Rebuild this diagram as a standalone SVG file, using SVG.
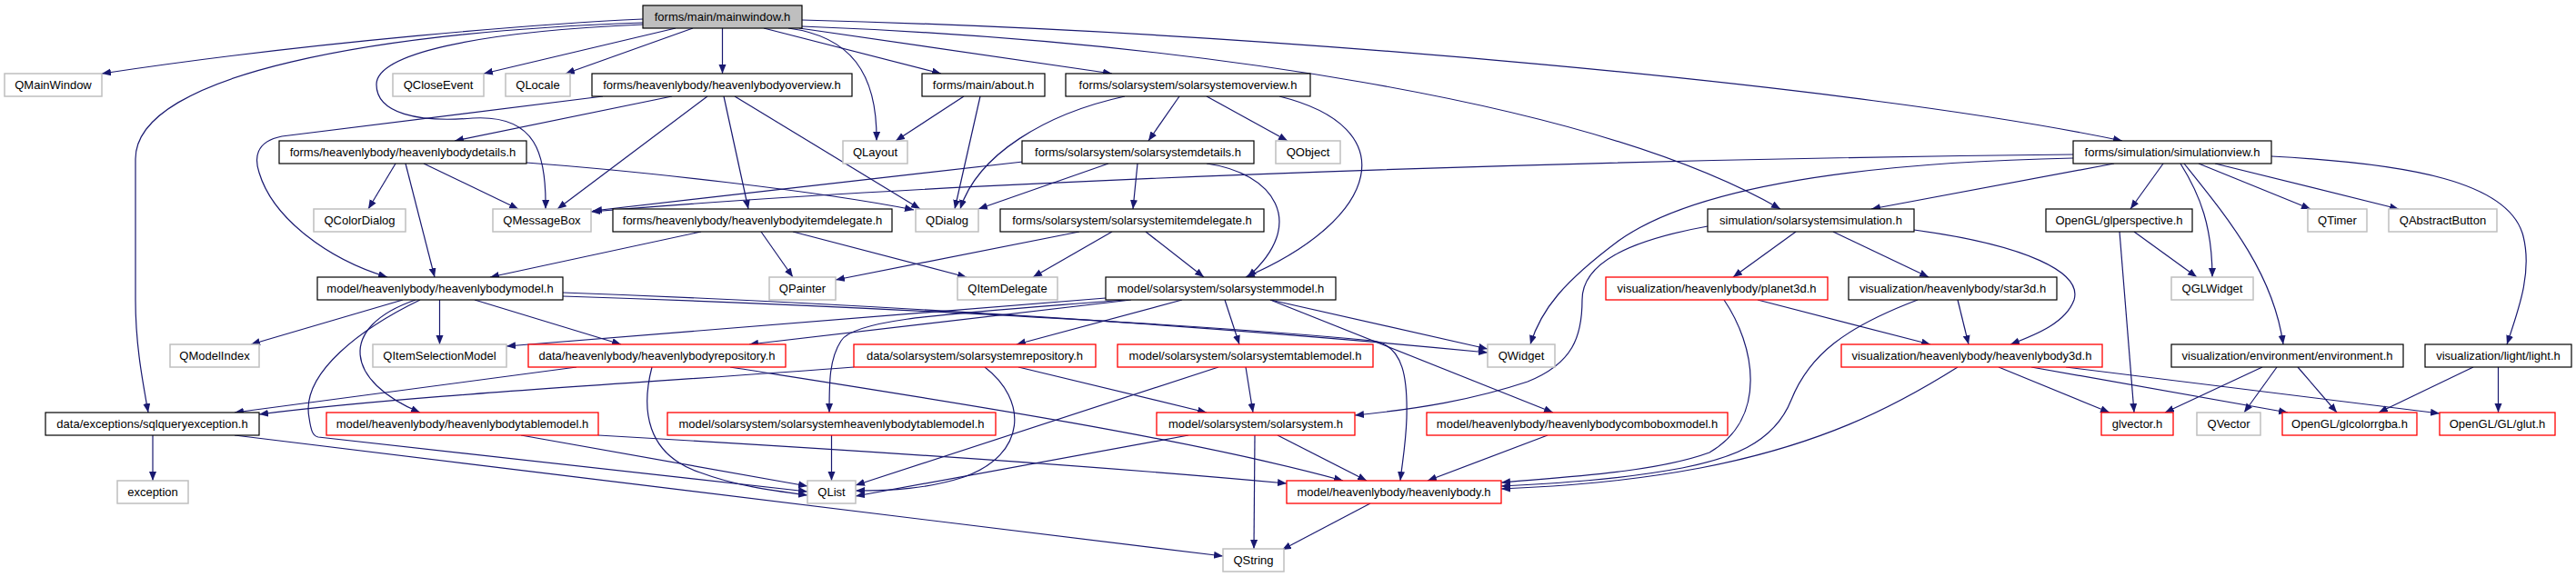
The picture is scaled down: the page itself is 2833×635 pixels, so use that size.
<svg xmlns="http://www.w3.org/2000/svg" width="2833" height="635" viewBox="0 0 2833 635">
<defs>
<marker id="a" markerWidth="11" markerHeight="9" refX="10" refY="4" orient="auto" markerUnits="userSpaceOnUse"><path d="M0,0 L10,4 L0,8 z" fill="#191970"/></marker>
<style>
.e path{fill:none;stroke:#191970;stroke-width:1.2;marker-end:url(#a)}
rect{fill:#ffffff;stroke:#000000;stroke-width:1.2}
.g rect{stroke:#bfbfbf;stroke-width:1.5}
.r rect{stroke:#ff0000;stroke-width:1.3}
.m rect{fill:#bfbfbf}
text{font-family:"Liberation Sans",Arial,Helvetica,sans-serif;font-size:13px;text-anchor:middle;fill:#000000}
</style>
</defs>
<rect x="0" y="0" width="2833" height="635" style="fill:#ffffff;stroke:none"/>
<g id="edges" class="e">
<path d="M707,21 C600,26 350,45 112,81"/>
<path d="M707,25 C420,35 149,80 149,175 L149,330 C149,380 157,420 163,454"/>
<path d="M707,27 C520,35 414,60 414,93 C414,125 460,135 520,130 C590,126 601,170 600,230"/>
<path d="M743,31 L532,81"/>
<path d="M762,31 L622,81"/>
<path d="M794.5,31 L794.5,81"/>
<path d="M867,31 C935,40 965,80 964,155"/>
<path d="M840,31 L1035,81"/>
<path d="M879,31 L1223,81"/>
<path d="M882,29 C1300,45 1750,110 1958,230"/>
<path d="M882,22 C1400,35 2050,95 2334,155"/>
<path d="M663,106 L310,150 C280,156 280,175 285,190 C300,240 360,285 426,305"/>
<path d="M739,106 L500,155"/>
<path d="M778,106 L613,230"/>
<path d="M796,106 L823,230"/>
<path d="M808,106 L1012,230"/>
<path d="M1060,106 L985,155"/>
<path d="M1078,106 L1050,230"/>
<path d="M1237,106 C1150,125 1075,170 1056,230"/>
<path d="M1297,106 L1263,155"/>
<path d="M1327,106 L1416,155"/>
<path d="M1407,106 C1545,140 1520,240 1370,305"/>
<path d="M1125,178 L652,232"/>
<path d="M1219,180 L1076,230"/>
<path d="M1251,180 L1246,230"/>
<path d="M1327,180 C1400,190 1440,245 1372,305"/>
<path d="M435,180 L405,230"/>
<path d="M446,180 L478,305"/>
<path d="M466,180 L570,230"/>
<path d="M579,179 C700,188 900,210 1005,231"/>
<path d="M771,255 L539,305"/>
<path d="M837,255 L872,305"/>
<path d="M872,255 L1063,305"/>
<path d="M1187,255 L919,308"/>
<path d="M1223,255 L1136,305"/>
<path d="M1260,255 L1324,305"/>
<path d="M443,330 L276,379"/>
<path d="M483.5,330 L483.5,379"/>
<path d="M522,330 L683,379"/>
<path d="M457,330 C370,360 380,420 462,454"/>
<path d="M462,330 C400,360 330,410 340,460 C342,474 344,480 350,481 L888,541"/>
<path d="M619,322 C900,332 1300,355 1636,388"/>
<path d="M619,326 C900,335 1300,355 1510,375 C1545,380 1548,420 1547,460 C1546,490 1542,510 1540,529"/>
<path d="M1216,328 L557,381"/>
<path d="M1244,330 L824,379"/>
<path d="M1237,330 C1050,345 940,350 925,375 C912,395 912,420 912,454"/>
<path d="M1300,330 L1118,379"/>
<path d="M1347,330 L1363,379"/>
<path d="M1397,330 L1636,384"/>
<path d="M1397,330 L1708,454"/>
<path d="M634,404 L258,454"/>
<path d="M717,404 C705,450 710,500 770,520 C810,535 850,540 888,545"/>
<path d="M803,404 C1000,435 1300,480 1477,529"/>
<path d="M939,404 C700,422 450,435 285,456"/>
<path d="M1083,404 C1130,440 1130,500 1060,525 C1020,538 980,540 941,540"/>
<path d="M1120,404 L1327,454"/>
<path d="M1340,404 L941,534"/>
<path d="M1370,404 L1378,454"/>
<path d="M914.5,479 L914.5,529"/>
<path d="M1307,479 L941,546"/>
<path d="M1380,479 L1379,604"/>
<path d="M1405,479 L1503,529"/>
<path d="M573,479 L888,535"/>
<path d="M658,479 C900,493 1200,512 1415,532"/>
<path d="M1702,479 L1570,529"/>
<path d="M1507,554 L1410,605"/>
<path d="M168,479 L168,529"/>
<path d="M258,479 L1345,612"/>
<path d="M2280,170 C1800,175 1100,195 650,233"/>
<path d="M2280,174 C2000,180 1850,215 1780,265 C1720,310 1695,340 1683,379"/>
<path d="M2325,180 L2058,230"/>
<path d="M2379,180 L2343,230"/>
<path d="M2398,180 C2420,215 2433,250 2433,305"/>
<path d="M2402,180 C2450,240 2500,300 2511,379"/>
<path d="M2418,180 L2541,230"/>
<path d="M2436,180 L2638,230"/>
<path d="M2498,172 C2650,180 2760,200 2775,260 C2785,300 2770,340 2757,379"/>
<path d="M1878,249 C1790,265 1740,290 1740,330 C1740,370 1730,400 1680,420 C1620,440 1560,450 1490,457"/>
<path d="M1975,255 L1906,305"/>
<path d="M2016,255 L2121,305"/>
<path d="M2105,253 C2230,270 2290,300 2281,330 C2272,355 2240,368 2211,379"/>
<path d="M1933,330 L2123,379"/>
<path d="M1896,330 C1930,380 1945,460 1880,498 C1820,520 1720,525 1651,531"/>
<path d="M2153,330 L2165,379"/>
<path d="M2109,330 C2030,360 1990,390 1970,440 C1950,490 1900,505 1850,515 C1780,528 1710,532 1651,535"/>
<path d="M2153,404 C2080,450 2000,490 1870,515 C1790,530 1720,535 1651,538"/>
<path d="M2198,404 L2320,454"/>
<path d="M2234,404 L2516,454"/>
<path d="M2272,404 L2683,455"/>
<path d="M2347,255 L2416,305"/>
<path d="M2331,255 L2347,454"/>
<path d="M2488,404 L2381,454"/>
<path d="M2504,404 L2468,454"/>
<path d="M2527,404 L2570,454"/>
<path d="M2720,404 L2616,454"/>
<path d="M2747.5,404 L2747.5,454"/>
</g>
<g id="n-mainwindow" class="m"><rect x="707" y="6" width="175" height="25"/><text x="794.5" y="23">forms/main/mainwindow.h</text></g>
<g id="n-qmainwindow" class="g"><rect x="5" y="81" width="107" height="25"/><text x="58.5" y="98">QMainWindow</text></g>
<g id="n-qcloseevent" class="g"><rect x="432" y="81" width="100" height="25"/><text x="482" y="98">QCloseEvent</text></g>
<g id="n-qlocale" class="g"><rect x="556" y="81" width="71" height="25"/><text x="591.5" y="98">QLocale</text></g>
<g id="n-hboverview"><rect x="651" y="81" width="286" height="25"/><text x="794" y="98">forms/heavenlybody/heavenlybodyoverview.h</text></g>
<g id="n-about"><rect x="1014" y="81" width="135" height="25"/><text x="1081.5" y="98">forms/main/about.h</text></g>
<g id="n-ssoverview"><rect x="1172" y="81" width="269" height="25"/><text x="1306.5" y="98">forms/solarsystem/solarsystemoverview.h</text></g>
<g id="n-hbdetails"><rect x="307" y="155" width="272" height="25"/><text x="443" y="172">forms/heavenlybody/heavenlybodydetails.h</text></g>
<g id="n-qlayout" class="g"><rect x="927" y="155" width="71" height="25"/><text x="962.5" y="172">QLayout</text></g>
<g id="n-ssdetails"><rect x="1124" y="155" width="255" height="25"/><text x="1251.5" y="172">forms/solarsystem/solarsystemdetails.h</text></g>
<g id="n-qobject" class="g"><rect x="1403" y="155" width="71" height="25"/><text x="1438.5" y="172">QObject</text></g>
<g id="n-simview"><rect x="2280" y="155" width="218" height="25"/><text x="2389" y="172">forms/simulation/simulationview.h</text></g>
<g id="n-qcolordialog" class="g"><rect x="345" y="230" width="101" height="25"/><text x="395.5" y="247">QColorDialog</text></g>
<g id="n-qmessagebox" class="g"><rect x="542" y="230" width="108" height="25"/><text x="596" y="247">QMessageBox</text></g>
<g id="n-hbitemdelegate"><rect x="674" y="230" width="307" height="25"/><text x="827.5" y="247">forms/heavenlybody/heavenlybodyitemdelegate.h</text></g>
<g id="n-qdialog" class="g"><rect x="1007" y="230" width="69" height="25"/><text x="1041.5" y="247">QDialog</text></g>
<g id="n-ssitemdelegate"><rect x="1100" y="230" width="290" height="25"/><text x="1245" y="247">forms/solarsystem/solarsystemitemdelegate.h</text></g>
<g id="n-sssimulation"><rect x="1878" y="230" width="227" height="25"/><text x="1991.5" y="247">simulation/solarsystemsimulation.h</text></g>
<g id="n-glperspective"><rect x="2250" y="230" width="161" height="25"/><text x="2330.5" y="247">OpenGL/glperspective.h</text></g>
<g id="n-qtimer" class="g"><rect x="2538" y="230" width="65" height="25"/><text x="2570.5" y="247">QTimer</text></g>
<g id="n-qabstractbutton" class="g"><rect x="2627" y="230" width="119" height="25"/><text x="2686.5" y="247">QAbstractButton</text></g>
<g id="n-hbmodel"><rect x="349" y="305" width="270" height="25"/><text x="484" y="322">model/heavenlybody/heavenlybodymodel.h</text></g>
<g id="n-qpainter" class="g"><rect x="846" y="305" width="73" height="25"/><text x="882.5" y="322">QPainter</text></g>
<g id="n-qitemdelegate" class="g"><rect x="1053" y="305" width="110" height="25"/><text x="1108" y="322">QItemDelegate</text></g>
<g id="n-ssmodel"><rect x="1216" y="305" width="253" height="25"/><text x="1342.5" y="322">model/solarsystem/solarsystemmodel.h</text></g>
<g id="n-planet3d" class="r"><rect x="1766" y="305" width="244" height="25"/><text x="1888" y="322">visualization/heavenlybody/planet3d.h</text></g>
<g id="n-star3d"><rect x="2033" y="305" width="229" height="25"/><text x="2147.5" y="322">visualization/heavenlybody/star3d.h</text></g>
<g id="n-qglwidget" class="g"><rect x="2388" y="305" width="90" height="25"/><text x="2433" y="322">QGLWidget</text></g>
<g id="n-qmodelindex" class="g"><rect x="187" y="379" width="98" height="25"/><text x="236" y="396">QModelIndex</text></g>
<g id="n-qitemselectionmodel" class="g"><rect x="410" y="379" width="147" height="25"/><text x="483.5" y="396">QItemSelectionModel</text></g>
<g id="n-hbrepository" class="r"><rect x="581" y="379" width="283" height="25"/><text x="722.5" y="396">data/heavenlybody/heavenlybodyrepository.h</text></g>
<g id="n-ssrepository" class="r"><rect x="939" y="379" width="266" height="25"/><text x="1072" y="396">data/solarsystem/solarsystemrepository.h</text></g>
<g id="n-sstablemodel" class="r"><rect x="1229" y="379" width="281" height="25"/><text x="1369.5" y="396">model/solarsystem/solarsystemtablemodel.h</text></g>
<g id="n-qwidget" class="g"><rect x="1636" y="379" width="74" height="25"/><text x="1673" y="396">QWidget</text></g>
<g id="n-hb3d" class="r"><rect x="2025" y="379" width="287" height="25"/><text x="2168.5" y="396">visualization/heavenlybody/heavenlybody3d.h</text></g>
<g id="n-environment"><rect x="2388" y="379" width="255" height="25"/><text x="2515.5" y="396">visualization/environment/environment.h</text></g>
<g id="n-light"><rect x="2667" y="379" width="161" height="25"/><text x="2747.5" y="396">visualization/light/light.h</text></g>
<g id="n-sqlqueryexception"><rect x="50" y="454" width="235" height="25"/><text x="167.5" y="471">data/exceptions/sqlqueryexception.h</text></g>
<g id="n-hbtablemodel" class="r"><rect x="359" y="454" width="299" height="25"/><text x="508.5" y="471">model/heavenlybody/heavenlybodytablemodel.h</text></g>
<g id="n-sshbtablemodel" class="r"><rect x="734" y="454" width="361" height="25"/><text x="914.5" y="471">model/solarsystem/solarsystemheavenlybodytablemodel.h</text></g>
<g id="n-solarsystem" class="r"><rect x="1272" y="454" width="218" height="25"/><text x="1381" y="471">model/solarsystem/solarsystem.h</text></g>
<g id="n-hbcombomodel" class="r"><rect x="1569" y="454" width="331" height="25"/><text x="1734.5" y="471">model/heavenlybody/heavenlybodycomboboxmodel.h</text></g>
<g id="n-glvector" class="r"><rect x="2311" y="454" width="79" height="25"/><text x="2350.5" y="471">glvector.h</text></g>
<g id="n-qvector" class="g"><rect x="2416" y="454" width="70" height="25"/><text x="2451" y="471">QVector</text></g>
<g id="n-glcolorrgba" class="r"><rect x="2510" y="454" width="148" height="25"/><text x="2584" y="471">OpenGL/glcolorrgba.h</text></g>
<g id="n-glut" class="r"><rect x="2683" y="454" width="127" height="25"/><text x="2746.5" y="471">OpenGL/GL/glut.h</text></g>
<g id="n-exception" class="g"><rect x="129" y="529" width="78" height="25"/><text x="168" y="546">exception</text></g>
<g id="n-qlist" class="g"><rect x="888" y="529" width="53" height="25"/><text x="914.5" y="546">QList</text></g>
<g id="n-heavenlybody" class="r"><rect x="1415" y="529" width="236" height="25"/><text x="1533" y="546">model/heavenlybody/heavenlybody.h</text></g>
<g id="n-qstring" class="g"><rect x="1345" y="604" width="67" height="25"/><text x="1378.5" y="621">QString</text></g>
</svg>
